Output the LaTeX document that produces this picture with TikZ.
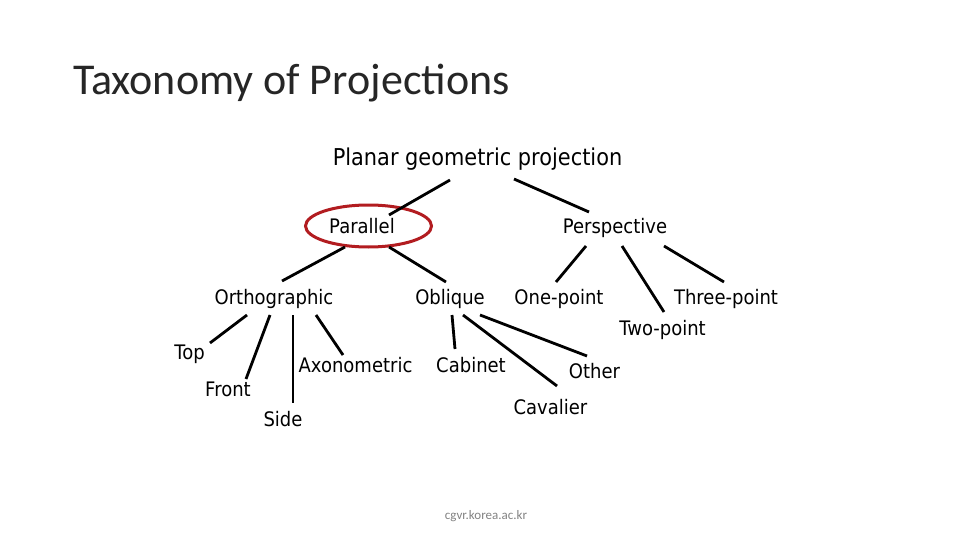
\documentclass[tikz,border=0pt]{standalone}
\usepackage{fontspec}
\setmainfont{Carlito}
\newfontfamily\tah[FakeStretch=0.9]{DejaVu Sans}
\definecolor{ovalred}{RGB}{178,28,32}
\definecolor{footgray}{RGB}{130,130,130}
\tikzset{
  lbl/.style={font=\tah\fontsize{20}{24}\selectfont, inner sep=0pt, anchor=base},
  br/.style={line width=2.8pt, black},
}
\begin{document}
\begin{tikzpicture}[x=1pt,y=-1pt]
\useasboundingbox (0,0) rectangle (960,540);
% title
\node[font=\fontsize{44}{52}\selectfont, inner sep=0pt, anchor=base west, text=black!85] (title) at (73,95) {Taxonomy of Projections};
% labels
\node[lbl, font=\tah\fontsize{23.2}{27}\selectfont] (planar) at (477.5,166) {Planar geometric projection};
\node[lbl] (parallel) at (362,233) {Parallel};
\node[lbl] (persp) at (615,233) {Perspective};
\node[lbl] (ortho) at (274,304) {Orthographic};
\node[lbl] (obl) at (450,304) {Oblique};
\node[lbl] (one) at (559,304) {One-point};
\node[lbl] (three) at (726,304) {Three-point};
\node[lbl] (two) at (662.5,335) {Two-point};
\node[lbl] (top) at (189.5,359) {Top};
\node[lbl] (front) at (228,396) {Front};
\node[lbl] (side) at (283,426) {Side};
\node[lbl] (axo) at (355.5,372) {Axonometric};
\node[lbl] (cab) at (471,372) {Cabinet};
\node[lbl] (other) at (594.5,378) {Other};
\node[lbl] (cav) at (550.5,414) {Cavalier};
\node[font=\fontsize{13}{15}\selectfont, text=footgray, inner sep=0pt, anchor=base] (foot) at (486,519) {cgvr.korea.ac.kr};
% highlight oval
\draw[ovalred, line width=3pt] (368.5,226) ellipse [x radius=63, y radius=21];
% connector end points
\coordinate (pl1) at (450,180); \coordinate (pa0) at (389,215);
\coordinate (pl2) at (514,179); \coordinate (pe0) at (589,212);
\coordinate (pa1) at (345,247); \coordinate (or0) at (282,281);
\coordinate (pa2) at (389,247); \coordinate (ob0) at (446,282);
\coordinate (pe1) at (586,246); \coordinate (on0) at (556,282);
\coordinate (pe2) at (622,246); \coordinate (tw0) at (664,312);
\coordinate (pe3) at (664,246); \coordinate (th0) at (724,282);
\coordinate (or1) at (247,315); \coordinate (to0) at (210,343);
\coordinate (or2) at (270,315); \coordinate (fr0) at (246,379);
\coordinate (or3) at (293,315); \coordinate (si0) at (293,403);
\coordinate (or4) at (316,315); \coordinate (ax0) at (343,355);
\coordinate (ob1) at (452,315); \coordinate (ca0) at (455,349);
\coordinate (ob2) at (463,315); \coordinate (cv0) at (557,386);
\coordinate (ob3) at (480,315); \coordinate (ot0) at (587,356);
\foreach \a/\b in {pl1/pa0,pl2/pe0,pa1/or0,pa2/ob0,pe1/on0,pe2/tw0,pe3/th0,
  or1/to0,or2/fr0,or3/si0,or4/ax0,ob1/ca0,ob2/cv0,ob3/ot0}
  \draw[br] (\a) -- (\b);
\end{tikzpicture}
\end{document}
